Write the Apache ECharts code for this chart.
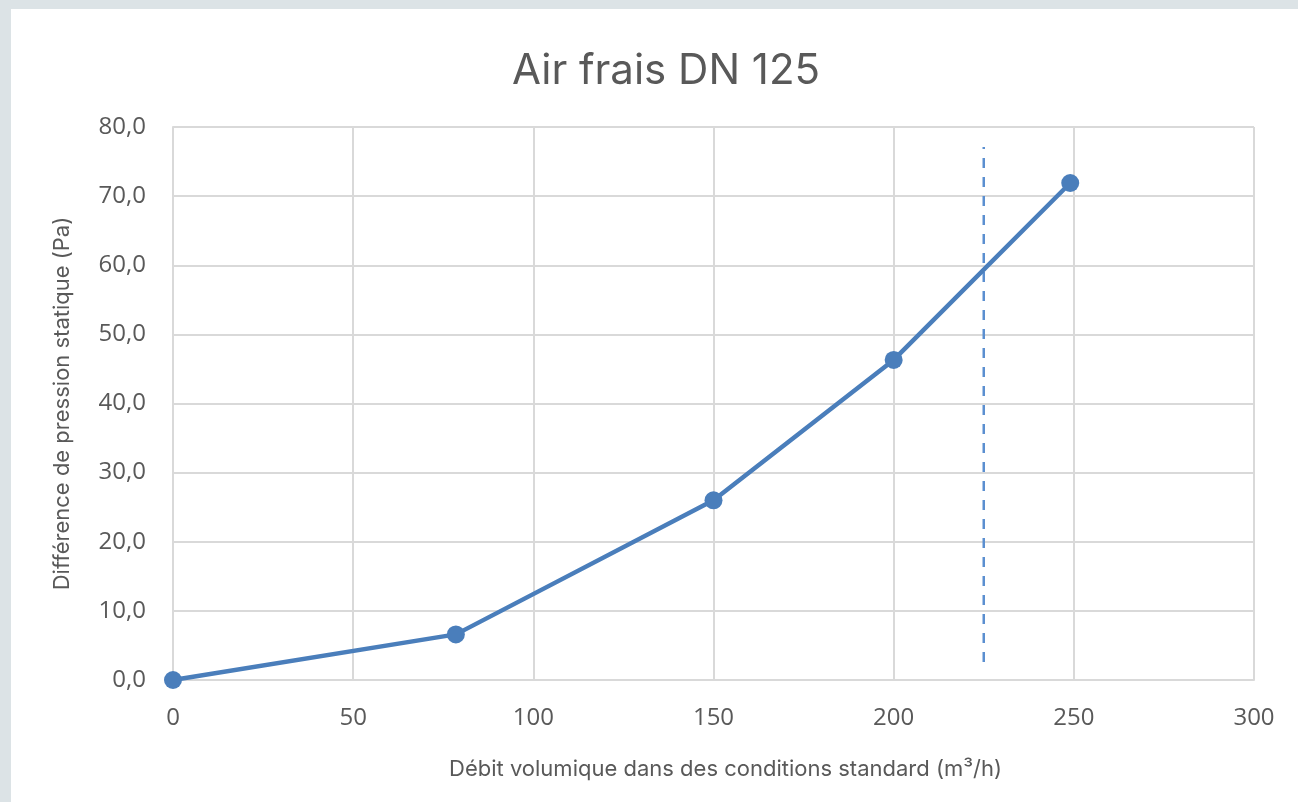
<!DOCTYPE html>
<html>
<head>
<meta charset="utf-8">
<script src="https://cdn.jsdelivr.net/npm/echarts@6/dist/echarts.min.js"></script>
<style>
  html, body { margin: 0; padding: 0; background: #dce3e6; }
  .card { position: absolute; left: 11px; top: 9px; width: 1287px; height: 793px; background: #fff; }
  #chart { width: 1287px; height: 793px; }
</style>
</head>
<body>
<div class="card"><div id="chart"></div></div>
<script>
// débit (m3/h) et différence de pression (Pa)
const flow = [0, 78.5, 150, 200, 249]
const pressure = [0, 6.6, 26.0, 46.3, 71.9]
const limitFlow = [225, 225]
const limitPressure = [2.6, 77.1]

const chart = echarts.init(document.getElementById('chart'))

const option = {
  animation: false,
  title: {
    text: 'Air frais DN 125',
    left: 496,
    top: 36,
    textStyle: { fontFamily: 'Inter', fontSize: 42, fontWeight: 'normal', color: '#595959' }
  },
  grid: { left: 162, right: 44, top: 118, bottom: 122 },
  xAxis: {
    type: 'value',
    min: 0,
    max: 300,
    interval: 50,
    name: 'Débit volumique dans des conditions standard (m³/h)',
    nameLocation: 'middle',
    nameGap: 78,
    nameTextStyle: { fontFamily: 'Inter', fontSize: 22, color: '#595959', padding: [0, 0, 0, 24] },
    axisLine: { show: true, lineStyle: { color: '#d9d9d9', width: 2 } },
    axisTick: { show: false },
    axisLabel: { fontFamily: 'Open Sans', fontSize: 24, color: '#595959', margin: 26 },
    splitLine: { lineStyle: { color: '#d9d9d9', width: 2 } }
  },
  yAxis: {
    type: 'value',
    min: 0,
    max: 80,
    interval: 10,
    name: 'Différence de pression statique (Pa)',
    nameLocation: 'middle',
    nameGap: 100,
    nameTextStyle: { fontFamily: 'Inter', fontSize: 22, color: '#595959' },
    axisLine: { show: true, lineStyle: { color: '#d9d9d9', width: 2 } },
    axisTick: { show: false },
    axisLabel: {
      fontFamily: 'Open Sans', fontSize: 24, color: '#595959', margin: 27,
      formatter: v => v.toFixed(1).replace('.', ',')
    },
    splitLine: { lineStyle: { color: '#d9d9d9', width: 2 } }
  },
  series: [
    {
      type: 'line',
      data: flow.map((x, i) => [x, pressure[i]]),
      symbol: 'circle',
      symbolSize: 18,
      lineStyle: { color: '#4a7ebb', width: 4.5 },
      itemStyle: { color: '#4a7ebb' },
      z: 3
    },
    {
      type: 'line',
      data: limitFlow.map((x, i) => [x, limitPressure[i]]),
      symbol: 'none',
      lineStyle: { color: '#5b8fd0', width: 2.5, type: [10, 9] },
      z: 2
    }
  ]
}

chart.setOption(option)
</script>
</body>
</html>
